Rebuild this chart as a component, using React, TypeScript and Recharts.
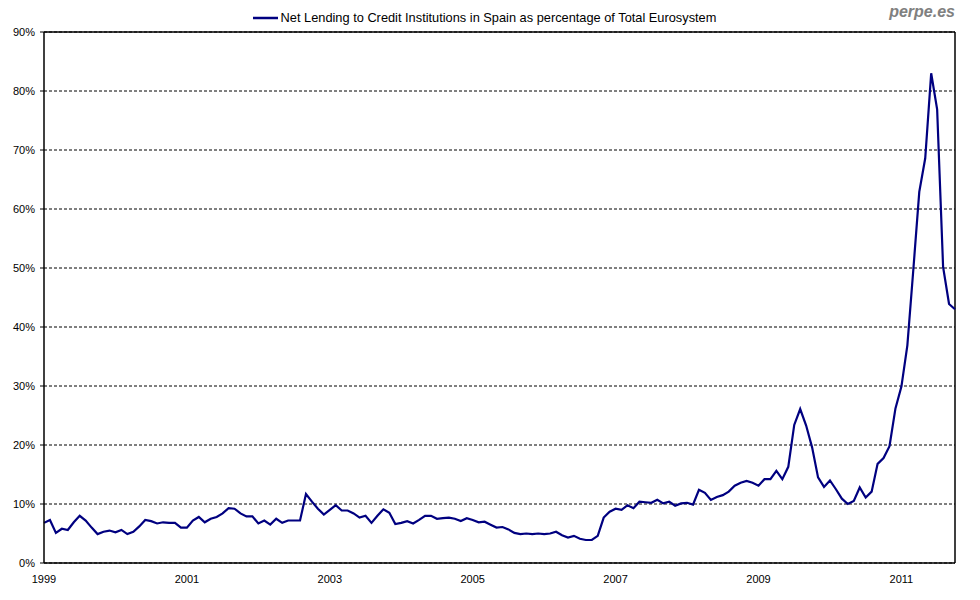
import React from "react";
import { LineChart, Line, XAxis, YAxis, CartesianGrid, ReferenceLine } from "recharts";

const seriesName = "Net Lending to Credit Institutions in Spain as percentage of Total Eurosystem";

// Monthly values (%), Jan 1999 .. Oct 2011
const lendingShare: number[] = [
  6.8, 7.3, 5.1, 5.8, 5.6, 6.9, 8.0, 7.2, 6.0, 4.9, 5.3, 5.5,
  5.2, 5.6, 4.9, 5.3, 6.2, 7.3, 7.1, 6.7, 6.9, 6.8, 6.8, 6.0,
  6.0, 7.2, 7.8, 6.9, 7.5, 7.8, 8.4, 9.3, 9.2, 8.4, 7.9, 7.9,
  6.7, 7.2, 6.5, 7.5, 6.8, 7.2, 7.2, 7.2, 11.7, 10.4, 9.2, 8.2,
  9.0, 9.8, 8.9, 8.9, 8.4, 7.7, 8.0, 6.8, 8.0, 9.1, 8.5, 6.6,
  6.8, 7.1, 6.7, 7.3, 8.0, 8.0, 7.5, 7.6, 7.7, 7.5, 7.1, 7.6,
  7.3, 6.9, 7.0, 6.5, 6.0, 6.1, 5.7, 5.1, 4.9, 5.0, 4.9, 5.0,
  4.9, 5.0, 5.3, 4.7, 4.3, 4.6, 4.1, 3.9, 3.9, 4.6, 7.7, 8.7,
  9.2, 9.0, 9.8, 9.3, 10.4, 10.3, 10.2, 10.7, 10.1, 10.4, 9.7, 10.1,
  10.2, 9.9, 12.4, 11.9, 10.7, 11.2, 11.5, 12.1, 13.1, 13.6, 13.9, 13.6,
  13.1, 14.2, 14.2, 15.6, 14.2, 16.3, 23.4, 26.1, 23.3, 19.6, 14.5, 12.9,
  14.0, 12.5, 10.9, 10.0, 10.5, 12.8, 11.1, 12.1, 16.8, 17.8, 19.8, 26.2,
  29.9, 36.9, 49.7, 62.9, 68.6, 83.0, 76.9, 50.2, 43.9, 43.0,
];

const startYear = 1999;
const months: string[] = lendingShare.map((_, i) => {
  const y = startYear + Math.floor(i / 12);
  const m = (i % 12) + 1;
  return `${y}-${m < 10 ? "0" + m : m}`;
});

const xTickLabels: string[] = ["1999", "2001", "2003", "2005", "2007", "2009", "2011"];
const yTicks: number[] = [0, 10, 20, 30, 40, 50, 60, 70, 80, 90];

const data = months.map((m, i) => ({ month: m, value: lendingShare[i] }));
const xTicks = xTickLabels.map((y) => `${y}-01`);

const FONT = "'Liberation Sans', Arial, sans-serif";

export default function App() {
  return (
    <div style={{ position: "absolute", left: 0, top: 0, width: 980, height: 600, background: "#fff" }}>
      <div
        style={{
          position: "absolute",
          left: 0,
          top: 10,
          width: 980,
          display: "flex",
          justifyContent: "center",
          alignItems: "center",
          fontFamily: FONT,
          fontSize: 12.8,
          color: "#000",
          zIndex: 2,
          paddingRight: 12,
          boxSizing: "border-box",
        }}
      >
        <svg width={28} height={10} style={{ marginRight: 1 }}>
          <line x1={1} y1={5} x2={26} y2={5} stroke="#000080" strokeWidth={2.5} />
        </svg>
        <span>{seriesName}</span>
      </div>
      <div
        style={{
          position: "absolute",
          right: 25,
          top: 3,
          fontFamily: FONT,
          fontSize: 16,
          fontWeight: "bold",
          fontStyle: "italic",
          color: "#808080",
          zIndex: 2,
        }}
      >
        perpe.es
      </div>
      <LineChart
        width={980}
        height={600}
        data={data}
        margin={{ top: 32, right: 25, left: 0, bottom: 7 }}
      >
        <CartesianGrid vertical={false} stroke="#000" strokeDasharray="3 2" strokeWidth={1} />
        <XAxis
          dataKey="month"
          ticks={xTicks}
          interval={0}
          tickFormatter={(v: string) => v.slice(0, 4)}
          tickLine={false}
          axisLine={{ stroke: "#000", strokeWidth: 1.5 }}
          tick={{ fill: "#000", fontSize: 11, fontFamily: FONT }}
          tickSize={6}
          tickMargin={6}
          height={30}
        />
        <YAxis
          domain={[0, 90]}
          ticks={yTicks}
          tickFormatter={(v: number) => `${v}%`}
          axisLine={{ stroke: "#000", strokeWidth: 1.5 }}
          tickLine={{ stroke: "#000" }}
          tickSize={4}
          tickMargin={5}
          tick={{ fill: "#000", fontSize: 11, fontFamily: FONT }}
          width={44}
          interval={0}
        />
        <ReferenceLine y={90} stroke="#000" strokeWidth={1.5} />
        <ReferenceLine x={months[months.length - 1]} stroke="#000" strokeWidth={1.5} />
        <Line
          type="linear"
          dataKey="value"
          name={seriesName}
          stroke="#000080"
          strokeWidth={2.2}
          dot={false}
          activeDot={false}
          isAnimationActive={false}
        />
      </LineChart>
    </div>
  );
}
